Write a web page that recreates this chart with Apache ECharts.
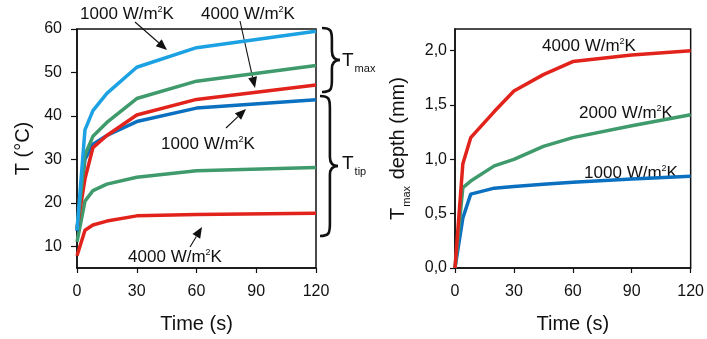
<!DOCTYPE html>
<html>
<head>
<meta charset="utf-8">
<script src="https://cdn.jsdelivr.net/npm/echarts@6/dist/echarts.min.js"></script>
<style>
  html, body { margin: 0; padding: 0; background: #fff; }
  #chart { width: 707px; height: 339px; }
</style>
</head>
<body>
<div id="chart"></div>
<script>
// left panel: T (C) vs time
var timeLeft = [0, 4, 8, 15, 30, 60, 120];
var tmax1000 = [13.7, 36.8, 41.2, 45.2, 51.2, 55.7, 59.5];
var tmax2000 = [14.0, 31.0, 35.3, 38.5, 44.0, 48.0, 51.6];
var tmax4000 = [14.0, 25.5, 32.7, 35.5, 40.2, 43.8, 47.1];
var ttip1000 = [13.5, 30.0, 33.5, 35.5, 38.7, 41.8, 43.7];
var ttip2000 = [11.0, 20.4, 22.8, 24.3, 25.9, 27.4, 28.1];
var ttip4000 = [7.8, 13.7, 14.9, 15.8, 17.0, 17.3, 17.6];

// right panel: depth of Tmax (mm) vs time
var timeRight = [0, 4, 8, 20, 30, 45, 60, 90, 120];
var depth1000 = [0, 0.46, 0.68, 0.735, 0.75, 0.77, 0.79, 0.82, 0.845];
var depth2000 = [0, 0.74, 0.80, 0.94, 1.00, 1.12, 1.20, 1.31, 1.41];
var depth4000 = [0, 0.96, 1.20, 1.44, 1.63, 1.78, 1.90, 1.96, 2.00];

var LIGHTBLUE = '#1ca2e3', BLUE = '#0b70bf', GREEN = '#3f9a6c', RED = '#e2231c';
var FONT = 'Liberation Sans, Arial, sans-serif';

function pairs(t, v) {
    return t.map(function (x, i) { return [x, v[i]]; });
}

function line(name, t, v, color, idx) {
    return {
        name: name, type: 'line', data: pairs(t, v),
        xAxisIndex: idx, yAxisIndex: idx,
        symbol: 'none', smooth: false,
        lineStyle: {color: color, width: 3.5}
    };
}

function xAxis(idx) {
    return {
        type: 'value', gridIndex: idx, min: 0, max: 120, interval: 30,
        name: 'Time (s)', nameLocation: 'middle', nameGap: 46,
        nameTextStyle: {fontSize: 20, color: '#111', fontFamily: FONT},
        axisLine: {lineStyle: {color: '#111', width: 1.5}},
        axisTick: {length: 5, lineStyle: {color: '#111', width: 1.2}},
        axisLabel: {fontSize: 16, color: '#111', fontFamily: FONT, margin: 16},
        splitLine: {show: false}
    };
}

var rich = {s: {fontSize: 9, verticalAlign: 'top', padding: [0, 0, 8, 0], fontFamily: FONT, fill: '#111'}};

function txt(x, y, n) {
    return {
        type: 'text', x: x, y: y,
        style: {text: n + ' W/m{s|2}K', font: '17px ' + FONT, fill: '#111',
            align: 'center', verticalAlign: 'middle', rich: rich}
    };
}

function arrow(x1, y1, x2, y2) {
    var a = Math.atan2(y2 - y1, x2 - x1), L = 11, W = 4.5;
    var bx = x2 - L * Math.cos(a), by = y2 - L * Math.sin(a);
    var px = -Math.sin(a) * W, py = Math.cos(a) * W;
    return {
        type: 'group', children: [
            {type: 'line', shape: {x1: x1, y1: y1, x2: bx, y2: by}, style: {stroke: '#111', lineWidth: 1.1}},
            {type: 'polygon', shape: {points: [[x2, y2], [bx + px, by + py], [bx - px, by - py]]}, style: {fill: '#111'}}
        ]
    };
}

function brace(x0, y0, y1, w) {
    var m = (y0 + y1) / 2, xv = x0 + w * 0.55, xt = x0 + w;
    var st = {stroke: '#111', lineWidth: 2.6, fill: null};
    function bz(a, b, c, d, e, f, g, h) {
        return {type: 'bezierCurve', shape: {x1: a, y1: b, cpx1: c, cpy1: d, cpx2: e, cpy2: f, x2: g, y2: h}, style: st};
    }
    function ln(a, b, c, d) {
        return {type: 'line', shape: {x1: a, y1: b, x2: c, y2: d}, style: st};
    }
    return {
        type: 'group', children: [
            bz(x0, y0, x0 + w * 0.5, y0, xv, y0 + 3, xv, y0 + 12),
            ln(xv, y0 + 12, xv, m - 9),
            bz(xv, m - 9, xv, m - 3, xv + 3, m, xt, m),
            bz(xt, m, xv + 3, m, xv, m + 3, xv, m + 9),
            ln(xv, m + 9, xv, y1 - 12),
            bz(xv, y1 - 12, xv, y1 - 3, x0 + w * 0.5, y1, x0, y1)
        ]
    };
}

function tsub(x, y, sub) {
    return {
        type: 'text', x: x, y: y,
        style: {text: '{a|T}{b|' + sub + '}', fill: '#111', verticalAlign: 'middle', align: 'left',
            rich: {a: {fontSize: 19, fontFamily: FONT, fill: '#111'},
                   b: {fontSize: 11, fontFamily: FONT, fill: '#111', verticalAlign: 'bottom', padding: [0, 0, -4, 1]}}}
    };
}

var chart = echarts.init(document.getElementById('chart'));
chart.setOption({
    animation: false,
    backgroundColor: '#fff',
    textStyle: {fontFamily: FONT},
    grid: [
        {left: 77, right: 391, top: 29, bottom: 62, show: true, borderColor: '#111', borderWidth: 1.5},
        {left: 455, right: 13, top: 29, bottom: 61, show: true, borderColor: '#111', borderWidth: 1.5}
    ],
    xAxis: [xAxis(0), xAxis(1)],
    yAxis: [
        {
            type: 'value', gridIndex: 0, min: 5, max: 60, splitNumber: 5,
            name: 'T (°C)', nameLocation: 'middle', nameGap: 44,
            nameTextStyle: {fontSize: 20, color: '#111', fontFamily: FONT},
            axisLine: {show: true, lineStyle: {color: '#111', width: 1.5}},
            axisTick: {show: true, length: 6, lineStyle: {color: '#111', width: 1.2}},
            axisLabel: {fontSize: 16, color: '#111', fontFamily: FONT, margin: 15, showMinLabel: false},
            splitLine: {show: false}
        },
        {
            type: 'value', gridIndex: 1, min: 0, max: 2.2, interval: 0.5,
            name: '{a|T}{b|max}{a| depth (mm)}', nameLocation: 'middle', nameGap: 47,
            nameTextStyle: {fontSize: 20, color: '#111', fontFamily: FONT,
                rich: {a: {fontSize: 20, fontFamily: FONT, color: '#111'},
                       b: {fontSize: 11, fontFamily: FONT, color: '#111', verticalAlign: 'bottom', padding: [0, 1, -4, 1]}}},
            axisLine: {show: true, lineStyle: {color: '#111', width: 1.5}},
            axisTick: {show: true, length: 5, lineStyle: {color: '#111', width: 1.2}},
            axisLabel: {fontSize: 16, color: '#111', fontFamily: FONT, margin: 8, showMaxLabel: false,
                formatter: function (v) { return v.toFixed(1).replace('.', ','); }},
            splitLine: {show: false}
        }
    ],
    series: [
        line('Ttip 4000', timeLeft, ttip4000, RED, 0),
        line('Ttip 2000', timeLeft, ttip2000, GREEN, 0),
        line('Ttip 1000', timeLeft, ttip1000, BLUE, 0),
        line('Tmax 4000', timeLeft, tmax4000, RED, 0),
        line('Tmax 2000', timeLeft, tmax2000, GREEN, 0),
        line('Tmax 1000', timeLeft, tmax1000, LIGHTBLUE, 0),
        line('Depth 1000', timeRight, depth1000, BLUE, 1),
        line('Depth 2000', timeRight, depth2000, GREEN, 1),
        line('Depth 4000', timeRight, depth4000, RED, 1)
    ],
    graphic: [
        txt(127, 14, '1000'),
        txt(248, 14, '4000'),
        txt(208, 144, '1000'),
        txt(175, 257, '4000'),
        txt(589, 46, '4000'),
        txt(626, 113, '2000'),
        txt(631, 173, '1000'),
        arrow(135, 22, 167, 50),
        arrow(240, 21, 255, 88),
        arrow(226, 128, 246, 109),
        arrow(190, 247, 202, 227),
        brace(322, 28, 92, 18),
        brace(320, 96, 236, 18),
        tsub(342, 61, 'max'),
        tsub(342, 164, 'tip')
    ]
});
</script>
</body>
</html>
